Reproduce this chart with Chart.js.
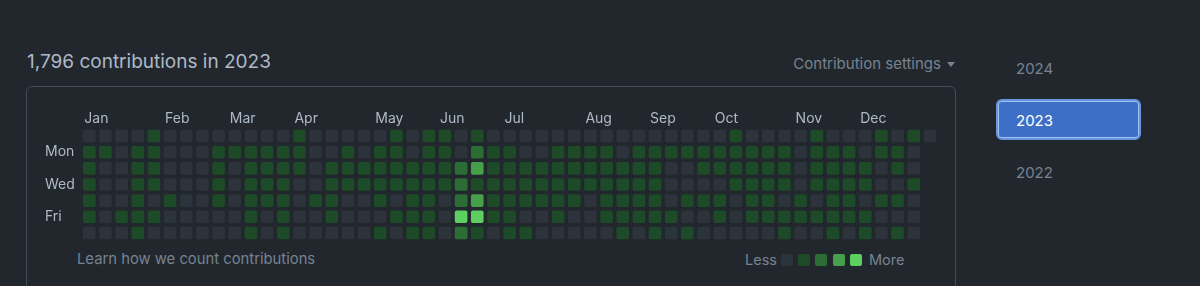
<!DOCTYPE html>
<html>
<head>
<meta charset="utf-8">
<title>1,796 contributions in 2023</title>
<script src="https://cdn.jsdelivr.net/npm/chart.js@4/dist/chart.umd.min.js"></script>
<style>
  body {
    margin: 0;
    width: 1200px;
    height: 286px;
    overflow: hidden;
    position: relative;
    background: #22272e;
    font-family: Inter, "Noto Sans", sans-serif;
  }
  .abs { position: absolute; white-space: nowrap; line-height: 1; }
  #title { left: 27px; top: 52px; font-size: 19px; color: #adbac7; }
  #settings { right: 245px; top: 56px; font-size: 15px; color: #768390; }
  #settings .caret {
    display: inline-block; width: 0; height: 0; margin-left: 6px; vertical-align: 2px;
    border-left: 4.5px solid transparent; border-right: 4.5px solid transparent;
    border-top: 5px solid #768390;
  }
  #box {
    left: 26px; top: 86px; width: 928px; height: 250px;
    border: 1px solid #444c56; border-radius: 6px;
  }
  #chartWrap { position: absolute; left: 45px; top: 100px; width: 893px; height: 145px; }
  #learn { left: 77px; top: 252px; font-size: 14.8px; color: #768390; }
  #less { left: 745px; top: 253px; font-size: 14.5px; color: #768390; }
  #more { left: 869px; top: 253px; font-size: 14.5px; color: #768390; }
  .sw { position: absolute; top: 254px; width: 12px; height: 12px; border-radius: 2px; }
  .year { left: 1016px; font-size: 15px; color: #768390; }
  #btn {
    position: absolute; left: 996px; top: 99px; width: 141px; height: 37px;
    background: #3d6fc6; border: 2px solid #6796e0; border-radius: 6px;
    box-shadow: inset 0 0 0 1px #9fc0f0;
  }
</style>
</head>
<body>
<div class="abs" id="title">1,796 contributions in 2023</div>
<div class="abs" id="settings">Contribution settings<span class="caret"></span></div>
<div class="abs" id="box"></div>
<div id="chartWrap"><canvas id="grid"></canvas></div>
<div class="abs" id="learn">Learn how we count contributions</div>
<div class="abs" id="less">Less</div>
<div id="legendCells"></div>
<div class="abs" id="more">More</div>
<div id="btn"></div>
<div class="abs year" style="top:61px">2024</div>
<div class="abs year" style="top:113px;color:#ffffff">2023</div>
<div class="abs year" style="top:165px">2022</div>

<script>
// contribution level per day (0-4), one entry per week column, null = day outside 2023
const sun = [0,0,0,0,1,0,0,0,0,0,0,0,0,1,0,0,0,0,0,1,0,1,1,0,1,0,0,0,0,0,0,0,0,0,0,0,0,0,0,0,1,0,0,0,0,1,0,0,0,1,0,1,0];
const mon = [1,1,0,1,1,0,0,0,1,1,1,1,1,1,0,0,1,0,1,1,0,1,1,0,2,1,1,0,0,1,1,1,1,0,1,1,1,1,1,1,1,1,1,1,0,1,1,1,0,1,1,0,null];
const tue = [1,0,0,1,1,0,0,0,1,0,1,1,1,1,0,1,1,1,1,1,1,1,1,2,3,1,1,1,1,1,1,1,1,1,1,1,0,0,1,1,1,1,1,1,0,1,1,1,1,0,1,0,null];
const wed = [1,0,0,1,1,0,0,0,1,0,1,1,1,0,0,1,1,1,1,1,1,1,1,2,1,1,1,1,1,1,1,1,1,1,1,1,0,0,0,0,1,1,1,1,0,1,1,1,1,0,0,1,null];
const thu = [1,0,0,1,0,1,0,0,1,0,1,1,1,0,1,1,0,0,1,0,1,1,0,2,3,1,1,1,1,1,1,0,1,1,1,1,0,1,1,1,0,1,1,0,1,0,1,1,0,1,1,0,null];
const fri = [1,0,1,1,1,0,0,0,0,0,1,0,1,0,0,1,0,0,0,1,1,1,0,4,4,1,1,0,0,1,0,0,1,1,1,1,1,0,0,1,0,1,1,1,1,1,1,1,1,0,0,0,null];
const sat = [0,0,0,1,0,0,0,0,0,0,1,0,1,0,0,0,0,0,1,0,1,1,0,2,1,0,1,1,0,0,0,0,0,1,0,1,0,1,0,0,0,0,0,1,0,0,1,0,1,0,1,0,null];

const dayRows = [sun, mon, tue, wed, thu, fri, sat];
const dayLabels = ["", "Mon", "", "Wed", "", "Fri", ""];
const months = ["Jan", "Feb", "Mar", "Apr", "May", "Jun", "Jul", "Aug", "Sep", "Oct", "Nov", "Dec"];
const monthStartWeek = [0, 5, 9, 13, 18, 22, 26, 31, 35, 39, 44, 48];
const weeks = sun.map((_, i) => i);

const levelColors = ["#2d333b", "#1d4a27", "#2b6d35", "#45a049", "#5dcf60"];

// legend swatches
const legendBox = document.getElementById("legendCells");
levelColors.forEach((c, i) => {
  const d = document.createElement("div");
  d.className = "sw";
  d.style.left = (781 + i * 17.2) + "px";
  d.style.background = c;
  legendBox.appendChild(d);
});

const datasets = dayRows.map((row, d) => ({
  label: "day" + d,
  data: row.map(v => v === null ? null : [d - 0.37, d + 0.37]),
  backgroundColor: row.map(v => v === null ? "transparent" : levelColors[v]),
  borderRadius: 2,
  borderSkipped: false,
  barThickness: 12,
  grouped: false
}));

const fontFamily = "Inter, 'Noto Sans', sans-serif";

// fixed axis sizes so the cells land on a 16px pitch
function fixSize(prop, size) {
  return s => {
    s[prop] = size;
    s.paddingTop = 0; s.paddingBottom = 0; s.paddingLeft = 0; s.paddingRight = 0;
  };
}

new Chart(document.getElementById("grid"), {
  type: "bar",
  data: { labels: weeks, datasets: datasets },
  options: {
    responsive: true,
    maintainAspectRatio: false,
    animation: false,
    events: [],
    layout: { padding: { top: 0, right: 0, bottom: 4, left: 0 } },
    plugins: { legend: { display: false }, tooltip: { enabled: false } },
    scales: {
      x: {
        type: "category",
        position: "top",
        offset: true,
        grid: { display: false, drawTicks: false },
        border: { display: false },
        afterFit: fixSize("height", 28),
        ticks: {
          autoSkip: false,
          maxRotation: 0,
          minRotation: 0,
          align: "start",
          labelOffset: -5,
          padding: 1,
          color: "#adbac7",
          font: { family: fontFamily, size: 14 },
          callback: (v, i) => {
            const m = monthStartWeek.indexOf(i);
            return m >= 0 ? months[m] : "";
          }
        }
      },
      y: {
        type: "linear",
        reverse: true,
        min: -0.5,
        max: 6.5,
        grid: { display: false, drawTicks: false },
        border: { display: false },
        afterBuildTicks: s => { s.ticks = dayLabels.map((_, i) => ({ value: i })); },
        afterFit: fixSize("width", 36.2),
        ticks: {
          autoSkip: false,
          crossAlign: "far",
          color: "#adbac7",
          font: { family: fontFamily, size: 14 },
          callback: (v, i) => dayLabels[i]
        }
      }
    }
  }
});
</script>
</body>
</html>
